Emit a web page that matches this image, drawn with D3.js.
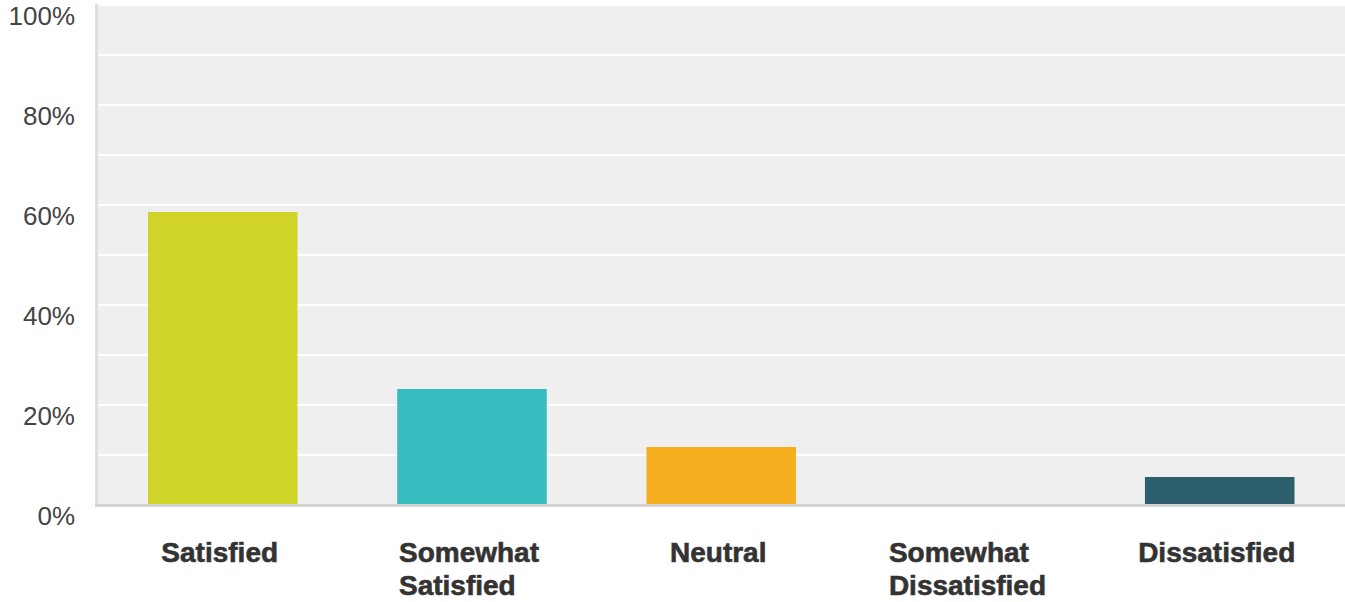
<!DOCTYPE html>
<html>
<head>
<meta charset="utf-8">
<script src="https://cdn.jsdelivr.net/npm/d3@7"></script>
<style>
  html, body { margin: 0; padding: 0; background: #fff; }
  svg { display: block; }
</style>
</head>
<body>
<svg id="chart" width="1345" height="602"></svg>
<script>
// Survey answer categories (each label may wrap onto two lines)
const categories = ["Satisfied", "Somewhat Satisfied", "Neutral", "Somewhat Dissatisfied", "Dissatisfied"];
const categoryLines = [["Satisfied"], ["Somewhat", "Satisfied"], ["Neutral"], ["Somewhat", "Dissatisfied"], ["Dissatisfied"]];
// Share of responses, percent
const values = [58.6, 23.2, 11.6, 0, 5.6];
const barColors = ["#d0d428", "#35bdbf", "#f6b01f", "#2f9fbf", "#2d5e6b"];
// Axis ticks
const tickValues = [0, 20, 40, 60, 80, 100];
const gridValues = [0, 10, 20, 30, 40, 50, 60, 70, 80, 90, 100];

const svg = d3.select("#chart");
const plot = { left: 97, right: 1345, top: 5, bottom: 505 };

const x = d3.scaleBand().domain(categories).range([98.1, 1344.35]).paddingInner(0.4).paddingOuter(0.2);
const y = d3.scaleLinear().domain([0, 100]).range([plot.bottom, plot.top]);

// Plot background
svg.append("rect")
  .attr("x", plot.left).attr("y", plot.top - 1)
  .attr("width", plot.right - plot.left).attr("height", plot.bottom - plot.top + 1)
  .attr("fill", "#efefef");

// Horizontal grid lines
svg.append("g").selectAll("line").data(gridValues.filter(d => d > 0)).join("line")
  .attr("x1", plot.left).attr("x2", plot.right)
  .attr("y1", d => y(d)).attr("y2", d => y(d))
  .attr("stroke", "#ffffff").attr("stroke-width", 2);

// Left axis edge
svg.append("rect")
  .attr("x", plot.left - 2).attr("y", plot.top - 1)
  .attr("width", 3).attr("height", plot.bottom - plot.top + 3)
  .attr("fill", "#dedede");

// Bars
svg.append("g").selectAll("rect").data(categories).join("rect")
  .attr("x", d => x(d))
  .attr("y", (d, i) => y(values[i]))
  .attr("width", x.bandwidth())
  .attr("height", (d, i) => y(0) - y(values[i]))
  .attr("fill", (d, i) => barColors[i]);

// Baseline
svg.append("rect")
  .attr("x", plot.left - 2).attr("y", plot.bottom - 1)
  .attr("width", plot.right - plot.left + 2).attr("height", 3)
  .attr("fill", "#d4d4d4");

// Y tick labels (sitting just below their grid line)
const yAxis = d3.axisLeft(y).tickValues(tickValues).tickFormat(d => d + "%").tickSize(0).tickPadding(0);
const ya = svg.append("g").attr("transform", `translate(75,0)`).call(yAxis);
ya.select(".domain").remove();
ya.selectAll("text")
  .attr("font-family", "Liberation Sans, Arial, sans-serif")
  .attr("font-size", 26)
  .attr("fill", "#444")
  .attr("dy", 19)
  .attr("text-anchor", "end");

// Category labels: left-aligned lines, block centred under each bar
const labels = svg.append("g").selectAll("text").data(categories).join("text")
  .attr("font-family", "Liberation Sans, Arial, sans-serif")
  .attr("font-size", 28)
  .attr("font-weight", "bold")
  .attr("fill", "#333")
  .attr("stroke", "#333")
  .attr("stroke-width", 0.6);
labels.each(function(d, i) {
  const t = d3.select(this);
  categoryLines[i].forEach((line, k) => {
    t.append("tspan").attr("y", 562 + k * 33).text(line);
  });
  const spans = t.selectAll("tspan").nodes();
  const w = d3.max(spans, s => s.getComputedTextLength());
  const left = x(d) + x.bandwidth() / 2 - w / 2 - 3;
  t.selectAll("tspan").attr("x", left);
});
</script>
</body>
</html>
